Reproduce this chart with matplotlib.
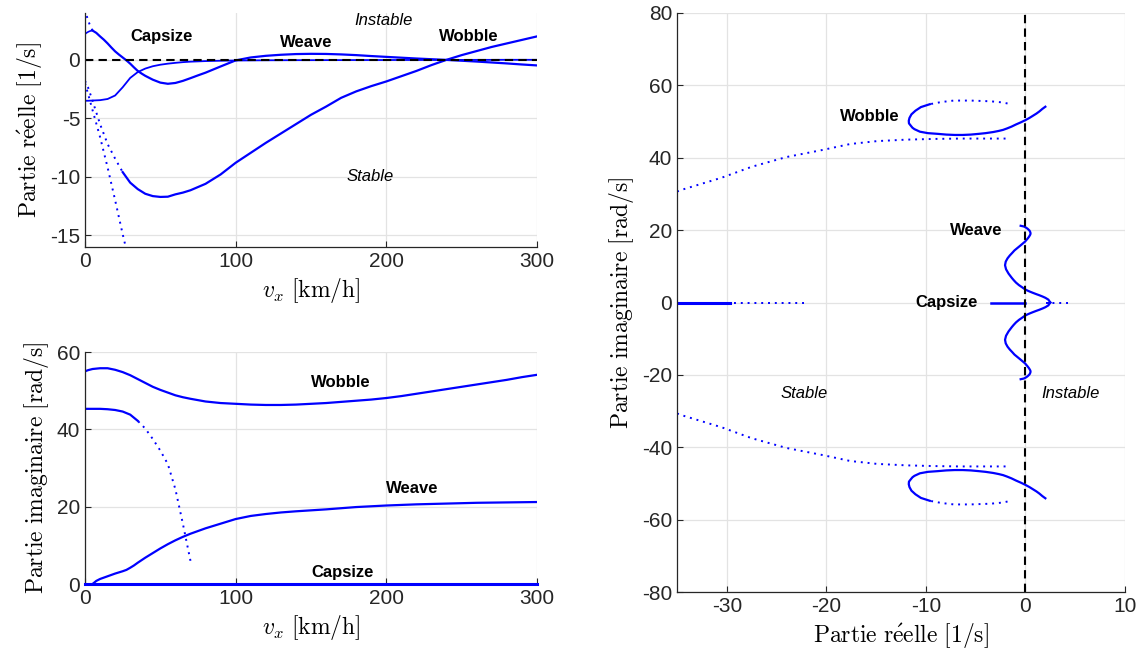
import matplotlib
matplotlib.use("Agg")
import matplotlib.pyplot as plt

plt.rcParams["font.family"] = ["Liberation Sans", "DejaVu Sans"]
plt.rcParams["mathtext.fontset"] = "cm"
plt.rcParams["axes.unicode_minus"] = False

# speed grid (km/h) used by wobble and capsize
speed = [0, 2, 5, 10, 15, 20, 25, 30, 35, 40, 45, 50, 55, 60, 65, 70,
         80, 90, 100, 110, 120, 130, 140, 150, 160, 170, 180, 190, 200,
         210, 220, 230, 240, 250, 260, 270, 280, 290, 300]

wobble_re = [-1.8, -2.35, -3.5, -5.5, -7.2, -8.45, -9.6, -10.5, -11.05, -11.45,
             -11.65, -11.72, -11.7, -11.5, -11.35, -11.15,
             -10.6, -9.8, -8.8, -7.95, -7.1, -6.3, -5.5, -4.7, -4.0, -3.25,
             -2.7, -2.25, -1.85, -1.4, -0.95, -0.45, 0.0, 0.4, 0.75, 1.1,
             1.4, 1.7, 2.0]
wobble_im = [55.0, 55.3, 55.6, 55.8, 55.8, 55.4, 54.8, 54.0, 53.0, 52.0,
             51.0, 50.2, 49.5, 48.8, 48.3, 47.9,
             47.2, 46.8, 46.6, 46.4, 46.3, 46.3, 46.4, 46.6, 46.8, 47.1,
             47.4, 47.7, 48.1, 48.6, 49.2, 49.8, 50.4, 51.0, 51.6, 52.2,
             52.8, 53.5, 54.1]

capsize_re = [-3.5, -3.5, -3.48, -3.45, -3.35, -3.05, -2.35, -1.55, -1.05, -0.75,
              -0.55, -0.42, -0.33, -0.26, -0.2, -0.16,
              -0.11, -0.08, -0.06, -0.05, -0.04, -0.035, -0.03, -0.03, -0.025,
              -0.025, -0.02, -0.02, -0.02, -0.015, -0.015, -0.01, -0.01, -0.01,
              -0.005, -0.005, 0.0, 0.0, 0.0]
capsize_im = [0.0] * 39

# weave (complex pair from 5 km/h)
weave_speed = [5, 7.5, 10, 12.5, 15, 17.5, 20, 22.5, 25, 27.5, 30, 32.5, 35,
               37.5, 40, 45, 50, 55, 60, 65, 70, 75,
               80, 90, 100, 110, 120, 130, 140, 150, 160, 170, 180, 190, 200,
               210, 220, 230, 240, 250, 260, 270, 280, 290, 300]
weave_re = [2.5, 2.3, 2.0, 1.72, 1.4, 1.05, 0.72, 0.45, 0.2, -0.05, -0.33,
            -0.65, -0.95, -1.17, -1.37, -1.7, -1.95, -2.05, -1.98, -1.8, -1.57,
            -1.33,
            -1.1, -0.57, -0.05, 0.2, 0.34, 0.43, 0.49, 0.51, 0.5, 0.46, 0.4,
            0.32, 0.25, 0.18, 0.11, 0.05, -0.01, -0.08, -0.15, -0.23, -0.31,
            -0.4, -0.48]
weave_im = [0.0, 0.8, 1.3, 1.65, 2.0, 2.35, 2.7, 3.0, 3.3, 3.65, 4.2, 4.8, 5.5,
            6.15, 6.8, 8.0, 9.2, 10.3, 11.3, 12.2, 13.0, 13.7,
            14.4, 15.6, 16.8, 17.6, 18.1, 18.5, 18.8, 19.05, 19.3, 19.6, 19.9,
            20.1, 20.3, 20.45, 20.6, 20.7, 20.8, 20.9, 21.0, 21.05, 21.1,
            21.15, 21.2]

# weave below 5 km/h: two real roots
low_speed = [0, 1, 2, 3, 4, 5]
weave_hi_re = [4.3, 3.8, 3.4, 3.05, 2.75, 2.5]
weave_lo_re = [2.2, 2.3, 2.38, 2.44, 2.48, 2.5]

# fast oscillating mode, goes real above ~70 km/h
mode_speed = [0, 2, 5, 10, 15, 20, 25, 30, 35, 40, 45, 50, 55, 60, 65, 70]
mode_re = [-2.0, -2.9, -4.3, -6.6, -9.2, -12.0, -14.9, -17.6, -20.3, -24.0,
           -27.5, -30.5, -34.7, -40.0, -46.0, -52.0]
mode_im = [45.3, 45.3, 45.3, 45.3, 45.2, 45.0, 44.6, 43.8, 42.2, 40.2, 37.5,
           34.5, 31.0, 24.5, 15.5, 6.0]

# real root far in the left half plane
real_speed = [0, 2, 5, 10, 15, 20, 30, 40, 60, 80, 100, 150, 200, 250, 300]
real_re = [-22.2, -23.4, -25.2, -27.6, -29.0, -29.7, -30.5, -31.2, -32.3,
           -33.2, -34.0, -35.5, -36.6, -37.5, -38.2]

BLUE = (0, 0, 1)
DOT = (0, (1, 2.5))
W = 1146
H = 659


def axes_px(fig, x0, y0, x1, y1):
    return fig.add_axes([x0 / W, 1 - y1 / H, (x1 - x0) / W, (y1 - y0) / H])


def style(ax):
    ax.grid(True, color="#e3e3e3", lw=0.9)
    ax.set_axisbelow(True)
    for s in ["top", "right"]:
        ax.spines[s].set_visible(False)
    for s in ["left", "bottom"]:
        ax.spines[s].set_color("#262626")
        ax.spines[s].set_linewidth(0.9)
    ax.tick_params(direction="in", length=4, labelsize=15, colors="#262626")


def split(ax, x, y, k, lw=1.6):
    ax.plot(x[:k + 1], y[:k + 1], color=BLUE, lw=1.4, ls=DOT)
    ax.plot(x[k:], y[k:], color=BLUE, lw=lw)


bold = dict(fontsize=12, fontweight="bold", ha="center", va="center")
ital = dict(fontsize=12, fontstyle="italic", ha="center", va="center")
lab = dict(fontsize=17)

fig = plt.figure(figsize=(W / 100, H / 100), dpi=100)

# real part vs speed
ax1 = axes_px(fig, 85, 13, 537, 247)
style(ax1)
split(ax1, speed, wobble_re, 6)
ax1.plot(mode_speed, mode_re, color=BLUE, lw=1.4, ls=DOT)
ax1.plot(weave_speed, weave_re, color=BLUE, lw=1.6)
ax1.plot(low_speed, weave_hi_re, color=BLUE, lw=1.4, ls=DOT)
ax1.plot(low_speed, weave_lo_re, color=BLUE, lw=1.2)
ax1.plot(speed, capsize_re, color=BLUE, lw=1.3)
ax1.axhline(0, color="k", lw=1.5, ls=(0, (4, 2.5)))
ax1.set_xlim(0, 300)
ax1.set_ylim(-16, 4)
ax1.set_xticks([0, 100, 200, 300])
ax1.set_yticks([-15, -10, -5, 0])
ax1.set_xlabel(r"$v_x\ \mathrm{[km/h]}$", **lab)
ax1.set_ylabel(r"$\mathrm{Partie\ r\acute{e}elle\ [1/s]}$", **lab)
ax1.text(51, 1.95, "Capsize", **bold)
ax1.text(147, 1.45, "Weave", **bold)
ax1.text(255, 1.95, "Wobble", **bold)
ax1.text(198, 3.4, "Instable", **ital)
ax1.text(189, -10.0, "Stable", **ital)

# imaginary part vs speed
ax2 = axes_px(fig, 85, 352, 537, 584)
style(ax2)
ax2.plot(speed, wobble_im, color=BLUE, lw=1.6)
split(ax2, mode_speed[::-1], mode_im[::-1], 7)
ax2.plot(weave_speed, weave_im, color=BLUE, lw=1.6)
ax2.plot(speed, capsize_im, color=BLUE, lw=2.2, clip_on=False, zorder=5)
ax2.set_xlim(0, 300)
ax2.set_ylim(0, 60)
ax2.set_xticks([0, 100, 200, 300])
ax2.set_yticks([0, 20, 40, 60])
ax2.set_xlabel(r"$v_x\ \mathrm{[km/h]}$", **lab)
ax2.set_ylabel(r"$\mathrm{Partie\ imaginaire\ [rad/s]}$", **lab)
ax2.text(170, 52.0, "Wobble", **bold)
ax2.text(217, 24.7, "Weave", **bold)
ax2.text(171, 2.9, "Capsize", **bold)

# root locus
ax3 = axes_px(fig, 677, 13, 1125, 592)
style(ax3)
for sign in (1, -1):
    wob = [sign * v for v in wobble_im]
    split(ax3, wobble_re, wob, 6)
    ax3.plot(mode_re, [sign * v for v in mode_im], color=BLUE, lw=1.4, ls=DOT)
    ax3.plot(weave_re, [sign * v for v in weave_im], color=BLUE, lw=1.6)
ax3.plot(capsize_re, capsize_im, color=BLUE, lw=1.8)
ax3.plot(weave_hi_re, [0.0] * 6, color=BLUE, lw=1.4, ls=DOT)
ax3.plot(weave_lo_re, [0.0] * 6, color=BLUE, lw=1.4)
split(ax3, real_re, [0.0] * 15, 5, lw=2.2)
ax3.axvline(0, color="k", lw=1.5, ls=(0, (4, 2.5)))
ax3.set_xlim(-35, 10)
ax3.set_ylim(-80, 80)
ax3.set_xticks([-30, -20, -10, 0, 10])
ax3.set_yticks(range(-80, 81, 20))
ax3.set_xlabel(r"$\mathrm{Partie\ r\acute{e}elle\ [1/s]}$", **lab)
ax3.set_ylabel(r"$\mathrm{Partie\ imaginaire\ [rad/s]}$", **lab)
ax3.text(-15.6, 51.4, "Wobble", **bold)
ax3.text(-4.9, 20.0, "Weave", **bold)
ax3.text(-7.9, 0.0, "Capsize", **bold)
ax3.text(-22.2, -25.1, "Stable", **ital)
ax3.text(4.5, -25.1, "Instable", **ital)

fig.savefig("out.png", dpi=100)
